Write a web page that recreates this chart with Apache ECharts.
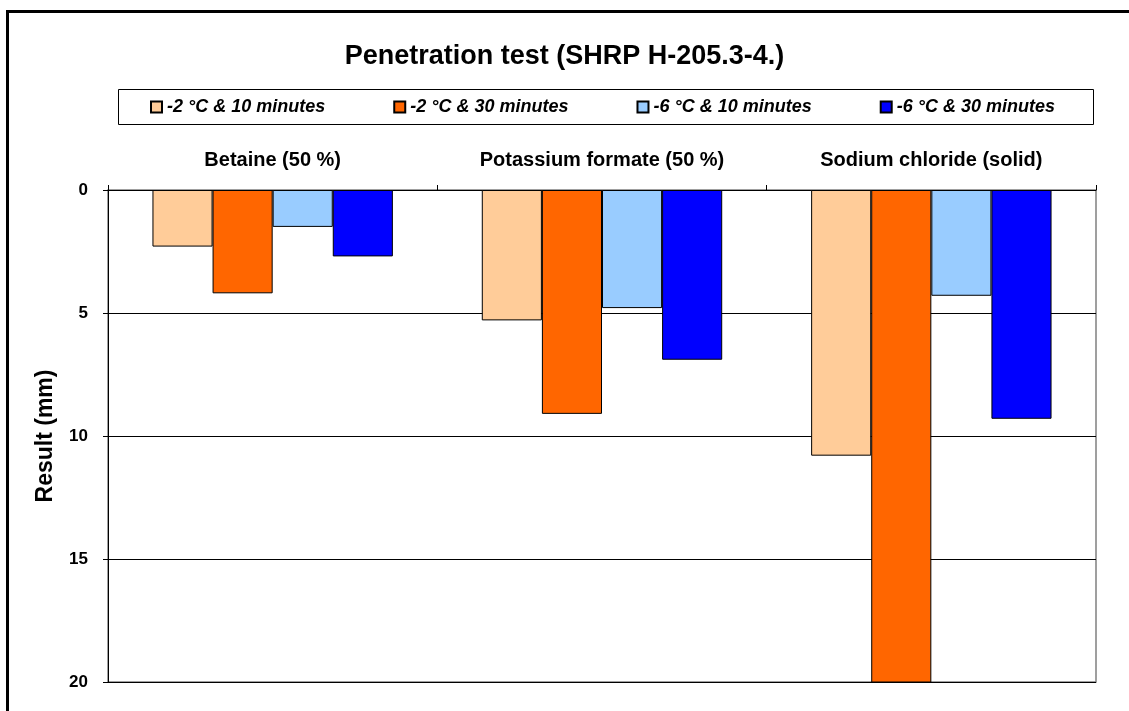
<!DOCTYPE html>
<html>
<head>
<meta charset="utf-8">
<script src="https://cdn.jsdelivr.net/npm/echarts@6/dist/echarts.min.js"></script>
<style>
  html, body { margin: 0; padding: 0; background: #fff; }
  #main { width: 1129px; height: 711px; }
</style>
</head>
<body>
<div id="main"></div>
<script>
// 分类（盐/除冰剂）
const categories = ['Betaine (50 %)', 'Potassium formate (50 %)', 'Sodium chloride (solid)']
const seriesNames = ['-2 °C & 10 minutes', '-2 °C & 30 minutes', '-6 °C & 10 minutes', '-6 °C & 30 minutes']
// 各系列数值 (mm)
const m2t10 = [2.3, 5.3, 10.8]
const m2t30 = [4.2, 9.1, 20.1]
const m6t10 = [1.5, 4.8, 4.3]
const m6t30 = [2.7, 6.9, 9.3]
const yTicks = [0, 5, 10, 15, 20]

const colors = ['#FFCC99', '#FF6600', '#99CCFF', '#0000FF']
const font = 'Arial, "Liberation Sans", sans-serif'

var myChart = echarts.init(document.getElementById('main'))

var option = {
    animation: false,
    backgroundColor: '#fff',
    title: {
        text: 'Penetration test (SHRP H-205.3-4.)',
        left: 'center',
        top: 38,
        textStyle: {
            fontFamily: font,
            fontSize: 27,
            fontWeight: 'bold',
            color: '#000'
        }
    },
    graphic: [
        {
            // 外框
            type: 'rect',
            shape: { x: 7.5, y: 11.5, width: 1200, height: 800 },
            style: { fill: 'none', stroke: '#000', lineWidth: 3 },
            silent: true
        },
        {
            // 图例框
            type: 'rect',
            shape: { x: 118.5, y: 89.5, width: 975, height: 35 },
            style: { fill: 'none', stroke: '#000', lineWidth: 1 },
            silent: true
        }
    ],
    legend: {
        left: 145,
        top: 93,
        itemWidth: 11,
        itemHeight: 11,
        itemGap: 68,
        icon: 'rect',
        textStyle: {
            fontFamily: font,
            fontSize: 18,
            fontWeight: 'bold',
            fontStyle: 'italic',
            color: '#000'
        }
    },
    grid: {
        left: 108,
        top: 190,
        right: 33,
        bottom: 29,
        show: true,
        borderColor: '#808080',
        borderWidth: 1.5
    },
    xAxis: {
        type: 'category',
        position: 'top',
        data: categories,
        axisLine: { lineStyle: { color: '#000', width: 1 } },
        axisTick: { show: true, length: 5, lineStyle: { color: '#000' } },
        axisLabel: {
            margin: 20,
            fontFamily: font,
            fontSize: 20,
            fontWeight: 'bold',
            color: '#000'
        }
    },
    yAxis: {
        type: 'value',
        inverse: true,
        min: yTicks[0],
        max: yTicks[yTicks.length - 1],
        interval: 5,
        name: 'Result (mm)',
        nameLocation: 'middle',
        nameGap: 51,
        nameTextStyle: {
            fontFamily: font,
            fontSize: 23,
            fontWeight: 'bold',
            color: '#000'
        },
        axisLine: { show: true, lineStyle: { color: '#000', width: 1 } },
        axisTick: { show: true, length: 5, lineStyle: { color: '#000' } },
        axisLabel: {
            margin: 20,
            fontFamily: font,
            fontSize: 17,
            fontWeight: 'bold',
            color: '#000'
        },
        splitLine: { show: true, lineStyle: { color: '#000', width: 1 } }
    },
    series: [m2t10, m2t30, m6t10, m6t30].map((arr, i) => ({
        name: seriesNames[i],
        type: 'bar',
        data: arr,
        barGap: '0%',
        barCategoryGap: '27%',
        itemStyle: {
            color: colors[i],
            borderColor: '#000',
            borderWidth: 1
        }
    }))
}
myChart.setOption(option)
</script>
</body>
</html>
